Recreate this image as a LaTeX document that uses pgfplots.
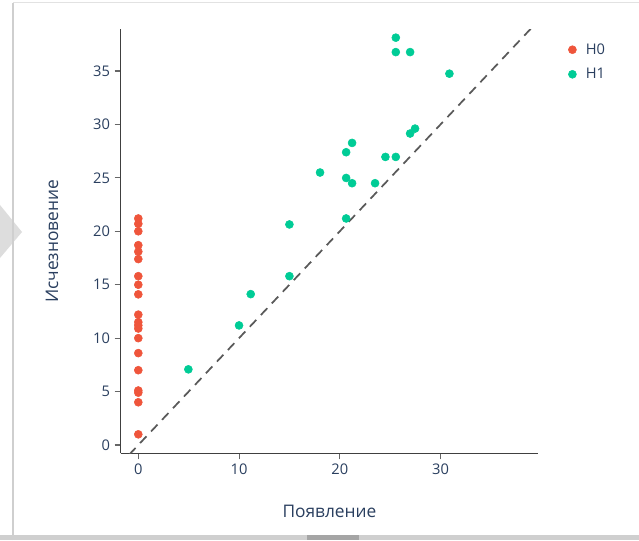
\documentclass[border=0pt]{standalone}
\usepackage{pgfplots}
\pgfplotsset{compat=1.18}
\usepackage{fontspec}
\setmainfont{Open Sans}
\definecolor{txt}{HTML}{2A3F5F}
\definecolor{hzero}{HTML}{EF553B}
\definecolor{hone}{HTML}{00CC96}
\definecolor{frame}{HTML}{CFCFCF}
\begin{document}
\begin{tikzpicture}
\useasboundingbox (0,0) rectangle (479.25pt,405pt);
% screenshot frame
\fill[white] (0,0) rectangle (479.25pt,405pt);
\fill[frame!70] (0,251.25pt) -- (16.5pt,231pt) -- (0,211.5pt) -- cycle;
\draw[frame, line width=2pt] (9.75pt,0) -- (9.75pt,403pt);
\draw[frame!60, line width=1pt] (9.75pt,403pt) -- (479.25pt,403pt);
\fill[frame] (0,0) rectangle (479.25pt,4pt);
\fill[frame!80!black] (230pt,0) rectangle (269pt,4pt);
\begin{axis}[
  at={(90.5pt,65pt)}, anchor=south west,
  scale only axis, width=313.2pt, height=318pt,
  xmin=-1.75, xmax=39.7, ymin=-0.78, ymax=38.9,
  axis x line*=bottom, axis y line*=left,
  axis line style={draw=black!75, line width=1.1pt, -},
  xtick={0,10,20,30}, ytick={0,5,...,35},
  tick align=outside, major tick length=4.5pt,
  tick style={draw=black!60, line width=0.8pt},
  /pgf/number format/assume math mode=true,
  tick label style={font=\fontsize{11}{13}\selectfont, text=txt},
  xlabel={Появление}, ylabel={Исчезновение},
  label style={font=\fontsize{13}{15}\selectfont, text=txt},
  xlabel style={at={(axis description cs:0.5,-0.138)}, anchor=center},
  ylabel style={at={(axis description cs:-0.1645,0.5)}, anchor=center, rotate=0},
  clip=true,
  legend style={at={(axis description cs:1.062,0.98)}, anchor=north west,
    draw=none, fill=none, font=\fontsize{11}{13}\selectfont, text=txt,
    row sep=5pt, column sep=5pt},
  legend cell align=left,
  legend image code/.code={\draw[mark repeat=1,#1] plot coordinates {(0.15cm,0cm)};},
]
\addplot[only marks, mark=*, mark size=3pt, draw=hzero, fill=hzero] coordinates {
(0,21.2) (0,20.7) (0,20.0) (0,18.7) (0,18.1) (0,17.4) (0,15.8) (0,15.0) (0,14.1)
(0,12.2) (0,11.5) (0,11.2) (0,10.9) (0,10.0) (0,8.6) (0,7.0) (0,5.1) (0,4.9) (0,4.0) (0,1.0)
};
\addlegendentry{H0}
\addplot[only marks, mark=*, mark size=3pt, draw=hone, fill=hone] coordinates {
(25.56,38.12) (25.56,36.77) (26.98,36.77) (30.88,34.75) (26.98,29.15) (27.47,29.61)
(21.22,28.27) (20.63,27.40) (24.53,26.96) (25.56,26.96) (18.04,25.50) (20.63,24.99)
(21.22,24.50) (23.5,24.50) (20.63,21.20) (15.0,20.64) (15.0,15.80) (11.16,14.12)
(10.0,11.19) (4.97,7.08)
};
\addlegendentry{H1}
\addplot[draw=black!65, line width=1.3pt, dash pattern=on 7pt off 5pt, forget plot] coordinates {(-2,-2) (41,41)};
\end{axis}
\end{tikzpicture}
\end{document}
